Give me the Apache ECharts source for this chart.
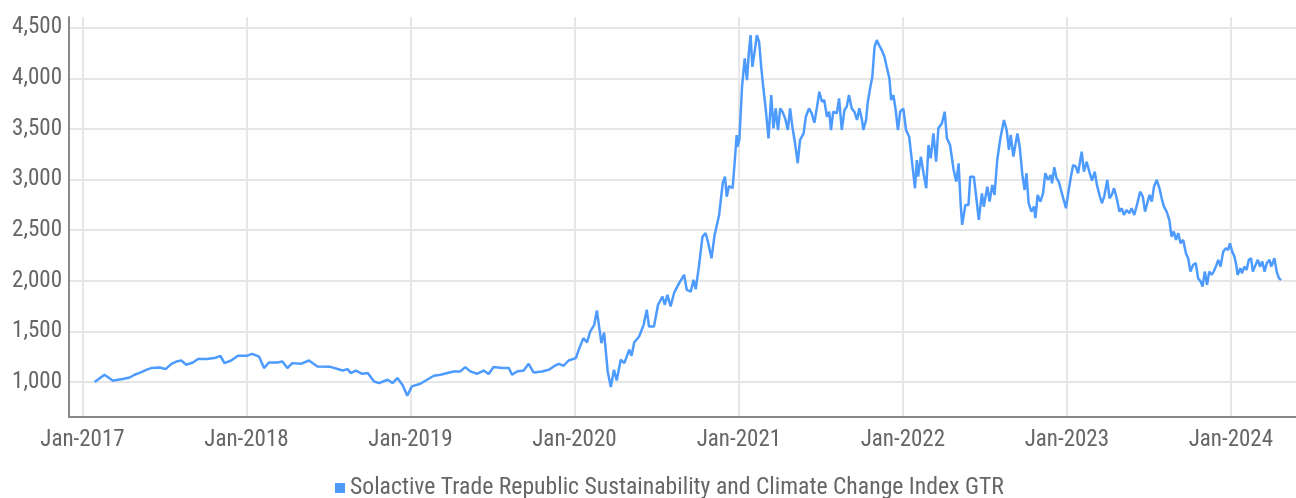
<!DOCTYPE html>
<html>
<head>
<meta charset="utf-8">
<script src="https://cdn.jsdelivr.net/npm/echarts@6/dist/echarts.min.js"></script>
<style>
html,body{margin:0;padding:0;background:#fff;}
#chart{width:1296px;height:498px;}
</style>
</head>
<body>
<div id="chart"></div>
<script>
const seriesName = 'Solactive Trade Republic Sustainability and Climate Change Index GTR';

const dates = [
'2017-01-28','2017-02-19','2017-03-10','2017-03-21','2017-04-01','2017-04-16','2017-04-27','2017-05-12','2017-05-23','2017-06-03',
'2017-06-22','2017-07-05','2017-07-18','2017-07-29','2017-08-09','2017-08-20','2017-09-04','2017-09-15','2017-10-04','2017-10-22',
'2017-11-04','2017-11-13','2017-11-28','2017-12-13',
'2018-01-01','2018-01-14','2018-01-29','2018-02-09','2018-02-20','2018-03-11','2018-03-22','2018-04-02','2018-04-13','2018-05-02',
'2018-05-20','2018-06-08','2018-07-07','2018-08-03','2018-08-14','2018-08-21','2018-09-01','2018-09-16','2018-09-28','2018-10-12',
'2018-10-23','2018-11-11','2018-11-22','2018-12-03','2018-12-14','2018-12-25',
'2019-01-04','2019-01-23','2019-02-07','2019-02-22','2019-03-09','2019-03-24','2019-04-07','2019-04-22','2019-05-03','2019-05-14',
'2019-05-29','2019-06-13','2019-06-24','2019-07-05','2019-07-24','2019-08-08','2019-08-15','2019-08-26','2019-09-10','2019-09-21',
'2019-10-02','2019-10-21','2019-11-05','2019-11-16','2019-11-27','2019-12-08','2019-12-19',
'2020-01-04','2020-01-12','2020-01-21','2020-01-29','2020-02-05','2020-02-14','2020-02-20','2020-03-01','2020-03-07','2020-03-15',
'2020-03-22','2020-03-29','2020-04-04','2020-04-13','2020-04-21','2020-05-02','2020-05-07','2020-05-13','2020-05-24','2020-06-03',
'2020-06-10','2020-06-15','2020-06-26','2020-07-05','2020-07-15','2020-07-20','2020-07-26','2020-08-02','2020-08-10','2020-08-21',
'2020-09-01','2020-09-07','2020-09-16','2020-09-22','2020-09-27','2020-10-04','2020-10-12','2020-10-19','2020-10-24','2020-11-01',
'2020-11-08','2020-11-18','2020-11-26','2020-12-01','2020-12-05','2020-12-10','2020-12-18','2020-12-23','2020-12-27','2020-12-29',
'2021-01-02','2021-01-08','2021-01-14','2021-01-19','2021-01-23','2021-01-27','2021-01-31','2021-02-05','2021-02-10','2021-02-15',
'2021-02-20','2021-02-25','2021-03-02','2021-03-08','2021-03-14','2021-03-19','2021-03-24','2021-03-29','2021-04-03','2021-04-08',
'2021-04-14','2021-04-20','2021-04-25','2021-04-30','2021-05-06','2021-05-12','2021-05-17','2021-05-25','2021-05-30','2021-06-06',
'2021-06-12','2021-06-18','2021-06-24','2021-06-29','2021-07-05','2021-07-10','2021-07-16','2021-07-21','2021-07-25','2021-07-30',
'2021-08-07','2021-08-12','2021-08-18','2021-08-24','2021-08-29','2021-09-03','2021-09-09','2021-09-15','2021-09-21','2021-09-26',
'2021-10-02','2021-10-05','2021-10-11','2021-10-15','2021-10-20','2021-10-25','2021-10-30','2021-11-04','2021-11-09','2021-11-15',
'2021-11-21','2021-11-26','2021-12-02','2021-12-06','2021-12-11','2021-12-16','2021-12-21','2021-12-26',
'2022-01-02','2022-01-08','2022-01-15','2022-01-23','2022-01-28','2022-02-01','2022-02-04','2022-02-10','2022-02-16','2022-02-22',
'2022-02-27','2022-03-04','2022-03-10','2022-03-16','2022-03-21','2022-03-29','2022-04-04','2022-04-09','2022-04-16','2022-04-24',
'2022-04-30','2022-05-05','2022-05-10','2022-05-13','2022-05-20','2022-05-27','2022-05-31','2022-06-08','2022-06-14','2022-06-19',
'2022-06-26','2022-06-30','2022-07-08','2022-07-13','2022-07-19','2022-07-24','2022-07-30','2022-08-06','2022-08-14','2022-08-20',
'2022-08-25','2022-08-29','2022-09-04','2022-09-09','2022-09-13','2022-09-18','2022-09-24','2022-09-29','2022-10-03','2022-10-08',
'2022-10-14','2022-10-20','2022-10-23','2022-10-28','2022-11-03','2022-11-09','2022-11-14','2022-11-20','2022-11-26','2022-11-29',
'2022-12-04','2022-12-09','2022-12-14','2022-12-19','2022-12-25','2022-12-30',
'2023-01-04','2023-01-10','2023-01-15','2023-01-21','2023-01-26','2023-02-03','2023-02-08','2023-02-14','2023-02-20','2023-02-26',
'2023-03-04','2023-03-09','2023-03-15','2023-03-20','2023-03-25','2023-04-01','2023-04-06','2023-04-11','2023-04-16','2023-04-22',
'2023-04-28','2023-05-03','2023-05-08','2023-05-14','2023-05-20','2023-05-25','2023-05-31','2023-06-06','2023-06-13','2023-06-19',
'2023-06-24','2023-06-29','2023-07-04','2023-07-09','2023-07-14','2023-07-20','2023-07-26','2023-07-31','2023-08-05','2023-08-11',
'2023-08-17','2023-08-22','2023-08-27','2023-09-01','2023-09-06','2023-09-11','2023-09-17','2023-09-23','2023-09-28','2023-10-03',
'2023-10-09','2023-10-15','2023-10-20','2023-10-26','2023-10-30','2023-11-04','2023-11-09','2023-11-14','2023-11-19','2023-11-24',
'2023-11-30','2023-12-04','2023-12-09','2023-12-15','2023-12-21','2023-12-26','2023-12-30',
'2024-01-04','2024-01-09','2024-01-13','2024-01-16','2024-01-22','2024-01-26','2024-01-31','2024-02-05','2024-02-10','2024-02-15',
'2024-02-19','2024-02-25','2024-03-01','2024-03-06','2024-03-11','2024-03-16','2024-03-21','2024-03-27','2024-03-31','2024-04-03',
'2024-04-07','2024-04-12','2024-04-17','2024-04-22'
];

const values = [
1000,1072,1013,1023,1030,1045,1072,1099,1121,1138,
1144,1128,1180,1203,1213,1171,1193,1227,1227,1237,
1259,1187,1213,1259,
1259,1279,1252,1138,1193,1193,1203,1138,1187,1180,
1213,1154,1150,1114,1128,1089,1114,1082,1089,1006,
990,1023,990,1039,973,865,
957,983,1023,1062,1072,1089,1105,1105,1148,1105,
1082,1114,1079,1148,1138,1138,1072,1105,1114,1180,
1095,1105,1121,1154,1180,1161,1213,
1237,1335,1434,1391,1499,1565,1706,1385,1489,1105,
951,1121,1016,1220,1187,1319,1259,1391,1450,1565,
1713,1549,1549,1763,1845,1763,1861,1746,1884,1977,
2059,1911,1894,2009,1917,2140,2436,2470,2387,2223,
2453,2650,2963,3028,2831,2936,2914,3193,3440,3324,
3390,3916,4196,3982,4245,4426,4113,4261,4426,4360,
4097,3884,3686,3407,3834,3506,3703,3489,3703,3670,
3604,3489,3703,3522,3358,3161,3390,3456,3620,3703,
3654,3561,3719,3867,3768,3785,3620,3670,3489,3670,
3654,3802,3489,3686,3719,3834,3703,3670,3588,3703,
3588,3489,3588,3768,3900,4015,4311,4377,4327,4278,
4212,4113,3999,3785,3834,3686,3489,3670,
3700,3489,3423,3111,2914,3193,3028,3226,3062,2914,
3341,3210,3456,3176,3506,3555,3670,3407,3341,3094,
2979,3160,2732,2552,2749,2749,3028,3028,2798,2601,
2864,2732,2930,2782,2946,2848,3193,3407,3588,3489,
3292,3440,3226,3358,3456,3324,3045,2897,3062,2766,
2683,2732,2618,2848,2782,2864,3062,2996,3045,2963,
3121,3012,2979,2897,2798,2716,
2864,3028,3144,3127,3062,3275,3078,3176,3078,2990,
3078,2945,2840,2766,2831,2996,2815,2848,2914,2815,
2683,2716,2650,2700,2667,2716,2650,2749,2880,2831,
2683,2766,2848,2782,2930,2996,2914,2815,2732,2683,
2601,2436,2486,2404,2470,2371,2404,2273,2223,2091,
2157,2174,2026,1992,1943,2091,1960,2091,2058,2091,
2157,2207,2140,2288,2322,2305,2371,
2288,2239,2157,2058,2124,2075,2140,2108,2207,2223,
2091,2157,2207,2140,2190,2091,2174,2207,2140,2174,
2223,2091,2026,2009
];

const yTicks = [1000, 1500, 2000, 2500, 3000, 3500, 4000, 4500];
const xTickDates = ['2017-01-01','2018-01-01','2019-01-01','2020-01-01','2021-01-01','2022-01-01','2023-01-01','2024-01-01'];
const xTickLabels = ['Jan-2017','Jan-2018','Jan-2019','Jan-2020','Jan-2021','Jan-2022','Jan-2023','Jan-2024'];

const FONT = "'Liberation Sans Narrow', 'Roboto Condensed', 'DejaVu Sans Condensed', sans-serif";
const toTs = s => { const p = s.split('-').map(Number); return Date.UTC(p[0], p[1] - 1, p[2]); };
const xTickTs = xTickDates.map(toTs);

const chart = echarts.init(document.getElementById('chart'), null, {renderer: 'canvas'});
chart.setOption({
  animation: false,
  backgroundColor: '#ffffff',
  grid: {left: 69, right: 0, top: 17, bottom: 81, containLabel: false},
  legend: {
    bottom: -7,
    left: 330,
    icon: 'rect',
    itemWidth: 10,
    itemHeight: 10,
    itemGap: 4,
    textStyle: {color: '#666', fontSize: 23.7, fontFamily: FONT},
    data: [seriesName]
  },
  xAxis: {
    type: 'value',
    min: toTs('2016-12-02'),
    max: toTs('2024-05-25'),
    axisLine: {show: true, onZero: false, lineStyle: {color: '#888', width: 2}},
    axisTick: {show: false, customValues: xTickTs},
    axisLabel: {
      customValues: xTickTs,
      color: '#666',
      fontSize: 23,
      fontFamily: FONT,
      margin: 12,
      formatter: v => {
        const i = xTickTs.indexOf(v);
        return i >= 0 ? xTickLabels[i] : '';
      }
    },
    splitLine: {show: true, lineStyle: {color: '#e6e6e6', width: 2}}
  },
  yAxis: {
    type: 'value',
    min: 655,
    max: 4605,
    axisLine: {show: true, lineStyle: {color: '#888', width: 2}},
    axisTick: {show: false, customValues: yTicks},
    axisLabel: {
      customValues: yTicks,
      color: '#666',
      fontSize: 23,
      fontFamily: FONT,
      margin: 7,
      formatter: v => v.toLocaleString('en-US')
    },
    splitLine: {show: true, lineStyle: {color: '#e6e6e6', width: 2}}
  },
  series: [{
    name: seriesName,
    type: 'line',
    showSymbol: false,
    symbol: 'none',
    color: '#4d9bff',
    lineStyle: {color: '#4d9bff', width: 2.5},
    data: dates.map((d, i) => [toTs(d), values[i]])
  }]
});
</script>
</body>
</html>
